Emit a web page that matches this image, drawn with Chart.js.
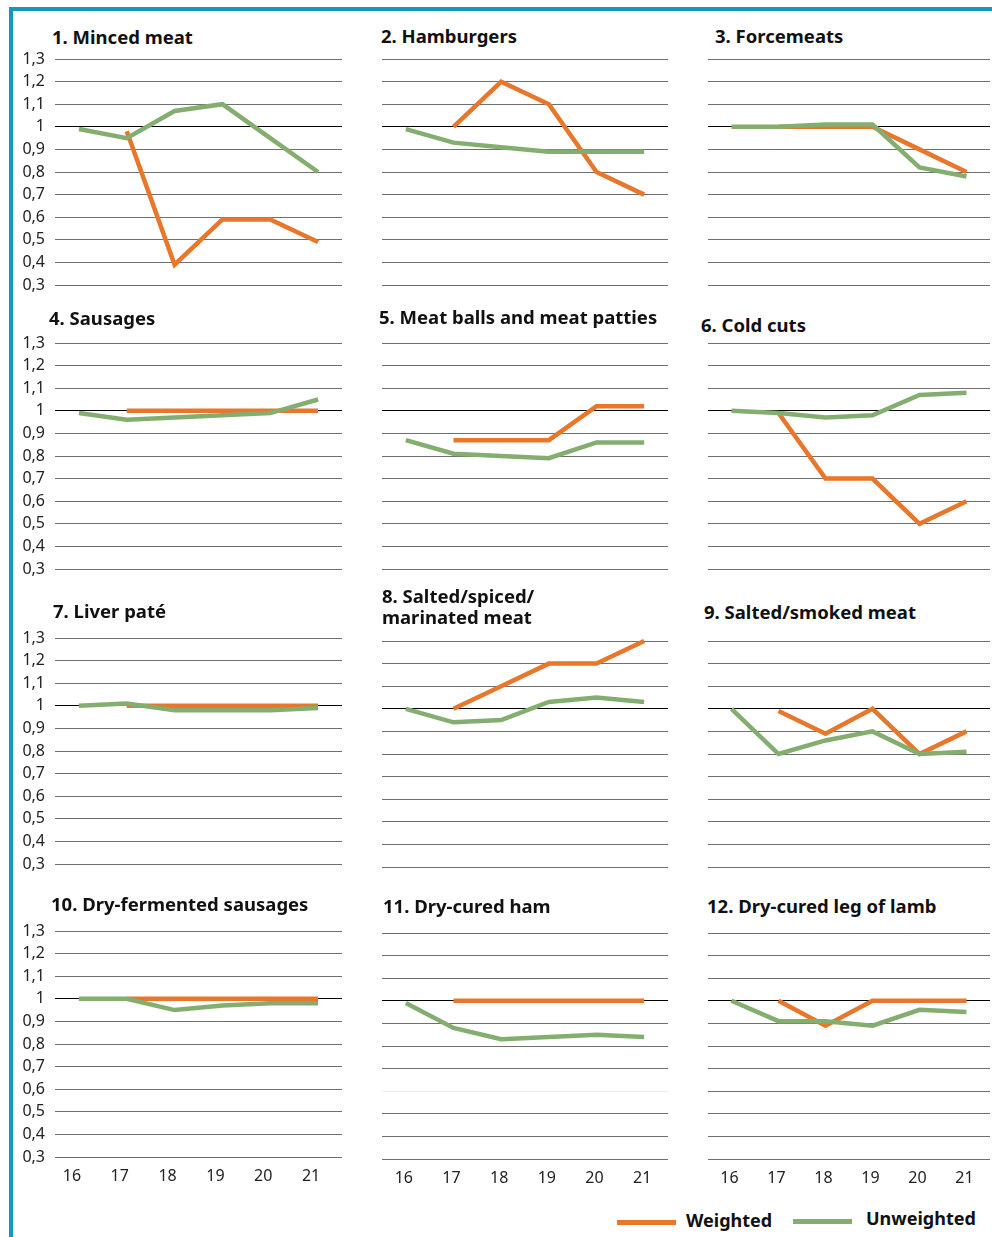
<!DOCTYPE html>
<html>
<head>
<meta charset="utf-8">
<title>Meat products index</title>
<script src="https://cdn.jsdelivr.net/npm/chart.js@4.4.1/dist/chart.umd.min.js"></script>
<style>
    body { margin: 0; background: #fff; }
    #page { position: relative; width: 992px; height: 1237px; overflow: hidden; font-family: "Noto Sans", sans-serif; }
    .frame-left { position: absolute; left: 9px; top: 7px; width: 4px; height: 1230px; background: #1598b8; }
    .frame-top { position: absolute; left: 9px; top: 7px; width: 983px; height: 4px; background: #1598b8; }
    .title { position: absolute; font-weight: 700; font-size: 18.5px; line-height: 21px; color: #111; white-space: nowrap; }
    canvas { position: absolute; }
    .legend-line { position: absolute; height: 5px; }
    .legend-text { position: absolute; font-weight: 700; font-size: 18px; line-height: 22px; color: #111; white-space: nowrap; }
</style>
</head>
<body>
<div id="page">
    <div class="frame-left"></div>
    <div class="frame-top"></div>
</div>
<script>
const YEARS = ['16', '17', '18', '19', '20', '21'];
const Y_MIN = 0.3;
const Y_MAX = 1.3;
const Y_STEP = 0.1;

const TITLES = [
    '1. Minced meat',
    '2. Hamburgers',
    '3. Forcemeats',
    '4. Sausages',
    '5. Meat balls and meat patties',
    '6. Cold cuts',
    '7. Liver paté',
    '8. Salted/spiced/<br>marinated meat',
    '9. Salted/smoked meat',
    '10. Dry-fermented sausages',
    '11. Dry-cured ham',
    '12. Dry-cured leg of lamb'
];

// weighted (orange) and unweighted (green) index, 2016 = 1
const MINCED_W      = [null, 0.98, 0.39, 0.59, 0.59, 0.49];
const MINCED_U      = [0.99, 0.95, 1.07, 1.10, 0.95, 0.80];
const HAMBURGERS_W  = [null, 1.00, 1.20, 1.10, 0.80, 0.70];
const HAMBURGERS_U  = [0.99, 0.93, 0.91, 0.89, 0.89, 0.89];
const FORCEMEATS_W  = [null, 1.00, 1.00, 1.00, 0.90, 0.80];
const FORCEMEATS_U  = [1.00, 1.00, 1.01, 1.01, 0.82, 0.78];
const SAUSAGES_W    = [null, 1.00, 1.00, 1.00, 1.00, 1.00];
const SAUSAGES_U    = [0.99, 0.96, 0.97, 0.98, 0.99, 1.05];
const MEATBALLS_W   = [null, 0.87, 0.87, 0.87, 1.02, 1.02];
const MEATBALLS_U   = [0.87, 0.81, 0.80, 0.79, 0.86, 0.86];
const COLDCUTS_W    = [null, 0.99, 0.70, 0.70, 0.50, 0.60];
const COLDCUTS_U    = [1.00, 0.99, 0.97, 0.98, 1.07, 1.08];
const LIVERPATE_W   = [null, 1.00, 1.00, 1.00, 1.00, 1.00];
const LIVERPATE_U   = [1.00, 1.01, 0.98, 0.98, 0.98, 0.99];
const SPICED_W      = [null, 1.00, 1.10, 1.20, 1.20, 1.30];
const SPICED_U      = [1.00, 0.94, 0.95, 1.03, 1.05, 1.03];
const SMOKED_W      = [null, 0.99, 0.89, 1.00, 0.80, 0.90];
const SMOKED_U      = [1.00, 0.80, 0.86, 0.90, 0.80, 0.81];
const FERMENTED_W   = [null, 1.00, 1.00, 1.00, 1.00, 1.00];
const FERMENTED_U   = [1.00, 1.00, 0.95, 0.97, 0.98, 0.98];
const HAM_W         = [null, 1.00, 1.00, 1.00, 1.00, 1.00];
const HAM_U         = [0.99, 0.88, 0.83, 0.84, 0.85, 0.84];
const LAMB_W        = [null, 1.00, 0.89, 1.00, 1.00, 1.00];
const LAMB_U        = [1.00, 0.91, 0.91, 0.89, 0.96, 0.95];

const WEIGHTED   = [MINCED_W, HAMBURGERS_W, FORCEMEATS_W, SAUSAGES_W, MEATBALLS_W, COLDCUTS_W,
                    LIVERPATE_W, SPICED_W, SMOKED_W, FERMENTED_W, HAM_W, LAMB_W];
const UNWEIGHTED = [MINCED_U, HAMBURGERS_U, FORCEMEATS_U, SAUSAGES_U, MEATBALLS_U, COLDCUTS_U,
                    LIVERPATE_U, SPICED_U, SMOKED_U, FERMENTED_U, HAM_U, LAMB_U];

const ORANGE = '#e8762b';
const GREEN  = '#83ae6f';

// layout of the 4x3 grid (plot area edges in page px)
const COL_X     = [[55, 342], [382, 668], [708, 990]];
const PLOT_TOP  = [59, 59, 59, 343, 343, 343, 638, 641, 641, 931, 933, 933];
const PLOT_H    = 226;
const PAD       = 26;   // more than the y labels ask for, so the plot area stays put
const TITLE_POS = [[52, 26], [381, 25], [715, 25], [49, 307], [379, 306], [701, 314],
                   [53, 600], [382, 585], [704, 601], [51, 893], [383, 895], [707, 895]];

const page = document.getElementById('page');

const fmtTick = v => String(Math.round(v * 10) / 10).replace('.', ',');

const gridColor = panel => ctx => {
    const v = ctx.tick.value;
    if (Math.abs(v - 1) < 1e-6) return '#000';
    // the 0,6 line of the ham panel is almost gone in the original
    if (panel === 10 && Math.abs(v - 0.6) < 1e-6) return '#ececec';
    return '#707070';
};

const buildPanel = i => {
    const col = i % 3;
    const row = Math.floor(i / 3);
    const [left, right] = COL_X[col];
    const top = PLOT_TOP[i];
    const bottom = top + PLOT_H;
    const showY = col === 0;
    const showX = row === 3;

    const cx = showY ? 14 : left - 3;
    const cy = top - PAD;
    const w = right + 3 - cx;
    const h = bottom - cy + (showX ? 34 : PAD);

    const title = document.createElement('div');
    title.className = 'title';
    title.style.left = TITLE_POS[i][0] + 'px';
    title.style.top = TITLE_POS[i][1] + 'px';
    title.innerHTML = TITLES[i];
    page.appendChild(title);

    const canvas = document.createElement('canvas');
    canvas.width = w;
    canvas.height = h;
    canvas.style.left = cx + 'px';
    canvas.style.top = cy + 'px';
    page.appendChild(canvas);

    new Chart(canvas.getContext('2d'), {
        type: 'line',
        data: {
            labels: YEARS,
            datasets: [
                // green first so it is painted on top
                { label: 'Unweighted', data: UNWEIGHTED[i], borderColor: GREEN, backgroundColor: GREEN },
                { label: 'Weighted', data: WEIGHTED[i], borderColor: ORANGE, backgroundColor: ORANGE }
            ].map(d => Object.assign(d, {
                borderWidth: 4.5,
                pointRadius: 0,
                tension: 0,
                fill: false,
                clip: false,
                borderCapStyle: 'butt'
            }))
        },
        options: {
            responsive: false,
            animation: false,
            devicePixelRatio: 1,
            layout: { padding: { top: PAD, right: 3, left: 0, bottom: showX ? 0 : PAD } },
            plugins: {
                legend: { display: false },
                tooltip: { enabled: false },
                title: { display: false }
            },
            scales: {
                x: {
                    display: showX,
                    offset: true,
                    grid: { display: false, drawTicks: false },
                    border: { display: false },
                    ticks: {
                        color: '#222',
                        font: { family: 'Noto Sans', size: 16 },
                        padding: 10,
                        // year labels in the original sit a bit left of the data points
                        labelOffset: showY ? -7 : -2,
                        maxRotation: 0,
                        autoSkip: false
                    },
                    afterFit: scale => { if (showX) scale.height = 34; }
                },
                y: {
                    min: Y_MIN,
                    max: Y_MAX,
                    grid: { color: gridColor(i), lineWidth: 1, drawTicks: false },
                    border: { display: false },
                    ticks: {
                        display: showY,
                        stepSize: Y_STEP,
                        autoSkip: false,
                        color: '#222',
                        font: { family: 'Noto Sans', size: 16 },
                        padding: 10,
                        callback: fmtTick
                    },
                    afterFit: scale => { scale.width = left - cx; }
                }
            }
        }
    });
};

TITLES.forEach((_, i) => buildPanel(i));

// legend, bottom right
const addLegend = (x, y, color, textX, textY, text) => {
    const line = document.createElement('div');
    line.className = 'legend-line';
    line.style.left = x + 'px';
    line.style.top = y + 'px';
    line.style.width = '59px';
    line.style.background = color;
    page.appendChild(line);

    const label = document.createElement('div');
    label.className = 'legend-text';
    label.style.left = textX + 'px';
    label.style.top = textY + 'px';
    label.textContent = text;
    page.appendChild(label);
};

addLegend(617, 1220, ORANGE, 686, 1209, 'Weighted');
addLegend(793, 1219, GREEN, 866, 1207, 'Unweighted');
</script>
</body>
</html>
